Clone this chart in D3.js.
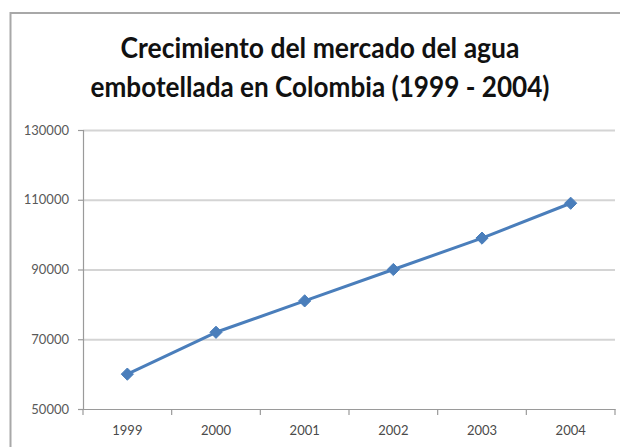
<!DOCTYPE html>
<html>
<head>
<meta charset="utf-8">
<script src="https://cdn.jsdelivr.net/npm/d3@7"></script>
<style>
  html, body { margin: 0; padding: 0; background: #fff; }
  svg { display: block; }
</style>
</head>
<body>
<svg id="chart" width="620" height="447"></svg>
<script>
// Bottled water market growth in Colombia
const years = ["1999", "2000", "2001", "2002", "2003", "2004"];
const marketValues = [60000, 72000, 81000, 90000, 99000, 109000];
const yTickValues = [50000, 70000, 90000, 110000, 130000];
const titleLines = ["Crecimiento del mercado del agua", "embotellada en Colombia (1999 - 2004)"];

const svg = d3.select("#chart");
const W = 620, H = 447;
const plot = { left: 83, right: 615, top: 130, bottom: 409 };

// Chart area frame (extends past the window on the right and bottom)
svg.append("rect")
  .attr("x", 10.5).attr("y", 13)
  .attr("width", W + 20).attr("height", H + 20)
  .attr("fill", "#fff")
  .attr("stroke", "#a8a8a8")
  .attr("stroke-width", 2);

// Title
const titleFont = "Lato, 'Open Sans', 'DejaVu Sans', sans-serif";
const titleSpecs = [
  { y: 58, len: 399 },
  { y: 97, len: 459 }
];
svg.selectAll("text.title")
  .data(titleLines)
  .join("text")
  .attr("class", "title")
  .attr("x", 320)
  .attr("y", (d, i) => titleSpecs[i].y)
  .attr("text-anchor", "middle")
  .attr("textLength", (d, i) => titleSpecs[i].len)
  .attr("lengthAdjust", "spacingAndGlyphs")
  .style("font-family", titleFont)
  .style("font-weight", 700)
  .style("font-size", "28.5px")
  .style("fill", "#111")
  .text(d => d);

// Scales
const x = d3.scaleBand().domain(years).range([plot.left, plot.right]).paddingInner(0).paddingOuter(0);
const y = d3.scaleLinear().domain([50000, 130000]).range([plot.bottom, plot.top]);

const labelFont = "Lato, 'Open Sans', sans-serif";

// Horizontal gridlines
svg.append("g")
  .attr("transform", `translate(${plot.left},0)`)
  .call(d3.axisLeft(y).tickValues(yTickValues.slice(1)).tickSize(-(plot.right - plot.left)).tickFormat(""))
  .call(g => g.select(".domain").remove())
  .call(g => g.selectAll("line").attr("stroke", "#d4d4d4").attr("stroke-width", 2));

// Y axis
svg.append("g")
  .attr("transform", `translate(${plot.left},0)`)
  .call(d3.axisLeft(y).tickValues(yTickValues).tickSize(5).tickPadding(9).tickFormat(d => String(d)))
  .call(g => g.select(".domain").attr("stroke", "#9a9a9a").attr("stroke-width", 1.2))
  .call(g => g.selectAll("line").attr("stroke", "#9a9a9a").attr("stroke-width", 1.2))
  .call(g => g.selectAll("text")
    .style("font-family", labelFont)
    .style("font-size", "13px")
    .style("fill", "#595959"));

// X axis: labels at category centres, tick marks at category boundaries
const xAxis = svg.append("g")
  .attr("transform", `translate(0,${plot.bottom})`)
  .call(d3.axisBottom(x).tickSize(0).tickPadding(17))
  .call(g => g.select(".domain").attr("stroke", "#9a9a9a").attr("stroke-width", 1.2))
  .call(g => g.selectAll("text")
    .style("font-family", labelFont)
    .style("font-size", "13px")
    .style("fill", "#4a4a4a"));

const boundaries = years.map(d => x(d)).concat([x(years[years.length - 1]) + x.bandwidth()]);
xAxis.selectAll("line.boundary")
  .data(boundaries)
  .join("line")
  .attr("class", "boundary")
  .attr("x1", d => d).attr("x2", d => d)
  .attr("y1", 0).attr("y2", 6)
  .attr("stroke", "#9a9a9a")
  .attr("stroke-width", 1.2);

// Series line
const points = years.map((yr, i) => ({ yr, v: marketValues[i] }));
const cx = d => x(d.yr) + x.bandwidth() / 2;

svg.append("path")
  .datum(points)
  .attr("fill", "none")
  .attr("stroke", "#4a7ebb")
  .attr("stroke-width", 3)
  .attr("stroke-linejoin", "round")
  .attr("d", d3.line().x(cx).y(d => y(d.v)));

// Diamond markers
svg.selectAll("path.marker")
  .data(points)
  .join("path")
  .attr("class", "marker")
  .attr("transform", d => `translate(${cx(d)},${y(d.v)})`)
  .attr("d", d3.symbol().type(d3.symbolDiamond2).size(95))
  .attr("fill", "#4a7ebb")
  .attr("stroke", "#4a7ebb")
  .attr("stroke-width", 1);
</script>
</body>
</html>
